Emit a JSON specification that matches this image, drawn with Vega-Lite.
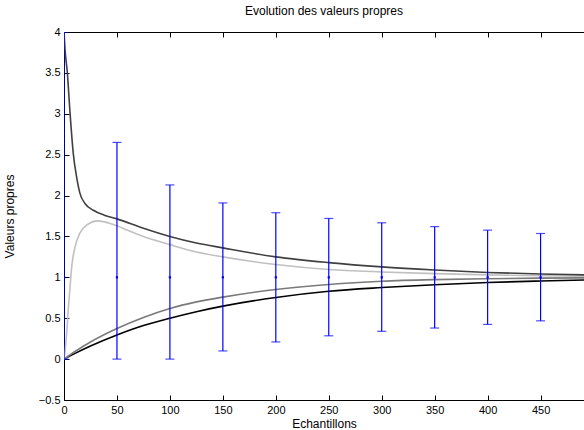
{
  "$schema": "https://vega.github.io/schema/vega-lite/v6.json",
  "width": 520,
  "height": 368,
  "autosize": {"type": "none"},
  "padding": {"left": 64, "top": 32, "right": 0, "bottom": 30},
  "background": "white",
  "config": {
    "view": {"stroke": null},
    "font": "Liberation Sans",
    "axis": {"grid": false, "domainColor": "black", "tickColor": "black", "labelColor": "black", "titleColor": "black", "labelFont": "Liberation Sans", "titleFont": "Liberation Sans", "labelFontSize": 11, "titleFontSize": 12, "titleFontWeight": "normal", "tickSize": -5, "domainWidth": 1}
  },
  "title": {"text": "Evolution des valeurs propres", "fontSize": 12, "fontWeight": "normal", "font": "Liberation Sans", "color": "black", "offset": 8},
  "resolve": {"axis": {"x": "independent", "y": "independent"}},
  "datasets": {
    "curves": [
      {"n": 0, "v": 0, "s": "a"}, {"n": 10, "v": 0.067, "s": "a"}, {"n": 25, "v": 0.16, "s": "a"}, {"n": 50, "v": 0.295, "s": "a"}, {"n": 75, "v": 0.41, "s": "a"}, {"n": 100, "v": 0.5, "s": "a"}, {"n": 125, "v": 0.58, "s": "a"}, {"n": 150, "v": 0.648, "s": "a"}, {"n": 200, "v": 0.754, "s": "a"}, {"n": 250, "v": 0.83, "s": "a"}, {"n": 300, "v": 0.875, "s": "a"}, {"n": 350, "v": 0.91, "s": "a"}, {"n": 400, "v": 0.937, "s": "a"}, {"n": 450, "v": 0.955, "s": "a"}, {"n": 491, "v": 0.967, "s": "a"},
      {"n": 0, "v": 0, "s": "b"}, {"n": 10, "v": 0.09, "s": "b"}, {"n": 25, "v": 0.21, "s": "b"}, {"n": 50, "v": 0.375, "s": "b"}, {"n": 75, "v": 0.51, "s": "b"}, {"n": 100, "v": 0.62, "s": "b"}, {"n": 125, "v": 0.7, "s": "b"}, {"n": 150, "v": 0.758, "s": "b"}, {"n": 200, "v": 0.852, "s": "b"}, {"n": 250, "v": 0.913, "s": "b"}, {"n": 300, "v": 0.952, "s": "b"}, {"n": 350, "v": 0.972, "s": "b"}, {"n": 400, "v": 0.983, "s": "b"}, {"n": 450, "v": 0.99, "s": "b"}, {"n": 491, "v": 0.993, "s": "b"},
      {"n": 0, "v": 0, "s": "c"}, {"n": 1, "v": 0.11, "s": "c"}, {"n": 2.5, "v": 0.31, "s": "c"}, {"n": 4, "v": 0.6, "s": "c"}, {"n": 5.7, "v": 0.88, "s": "c"}, {"n": 7.3, "v": 1.13, "s": "c"}, {"n": 10.4, "v": 1.37, "s": "c"}, {"n": 15, "v": 1.54, "s": "c"}, {"n": 21.5, "v": 1.64, "s": "c"}, {"n": 32, "v": 1.69, "s": "c"}, {"n": 42, "v": 1.665, "s": "c"}, {"n": 52, "v": 1.62, "s": "c"}, {"n": 60, "v": 1.575, "s": "c"}, {"n": 75, "v": 1.5, "s": "c"}, {"n": 100, "v": 1.4, "s": "c"}, {"n": 125, "v": 1.31, "s": "c"}, {"n": 150, "v": 1.25, "s": "c"}, {"n": 200, "v": 1.157, "s": "c"}, {"n": 250, "v": 1.096, "s": "c"}, {"n": 300, "v": 1.066, "s": "c"}, {"n": 350, "v": 1.045, "s": "c"}, {"n": 400, "v": 1.03, "s": "c"}, {"n": 450, "v": 1.02, "s": "c"}, {"n": 491, "v": 1.014, "s": "c"},
      {"n": 0, "v": 4, "s": "d"}, {"n": 1, "v": 3.78, "s": "d"}, {"n": 3.1, "v": 3.51, "s": "d"}, {"n": 5.7, "v": 3.01, "s": "d"}, {"n": 8.8, "v": 2.51, "s": "d"}, {"n": 12, "v": 2.22, "s": "d"}, {"n": 15, "v": 2.03, "s": "d"}, {"n": 20, "v": 1.9, "s": "d"}, {"n": 27.7, "v": 1.82, "s": "d"}, {"n": 38, "v": 1.76, "s": "d"}, {"n": 50, "v": 1.715, "s": "d"}, {"n": 75, "v": 1.6, "s": "d"}, {"n": 100, "v": 1.5, "s": "d"}, {"n": 125, "v": 1.42, "s": "d"}, {"n": 150, "v": 1.36, "s": "d"}, {"n": 200, "v": 1.25, "s": "d"}, {"n": 250, "v": 1.18, "s": "d"}, {"n": 300, "v": 1.128, "s": "d"}, {"n": 350, "v": 1.09, "s": "d"}, {"n": 400, "v": 1.06, "s": "d"}, {"n": 450, "v": 1.04, "s": "d"}, {"n": 491, "v": 1.03, "s": "d"}
    ],
    "bars": [
      {"n": 0, "m": 1, "lo": 0, "hi": 4},
      {"n": 50, "m": 1, "lo": 0, "hi": 2.65},
      {"n": 100, "m": 1, "lo": 0, "hi": 2.13},
      {"n": 150, "m": 1, "lo": 0.1, "hi": 1.91},
      {"n": 200, "m": 1, "lo": 0.21, "hi": 1.79},
      {"n": 250, "m": 1, "lo": 0.285, "hi": 1.72},
      {"n": 300, "m": 1, "lo": 0.34, "hi": 1.667},
      {"n": 350, "m": 1, "lo": 0.38, "hi": 1.62},
      {"n": 400, "m": 1, "lo": 0.424, "hi": 1.577},
      {"n": 450, "m": 1, "lo": 0.468, "hi": 1.536}
    ]
  },
  "layer": [
    {
      "data": {"name": "curves"},
      "mark": {"type": "line", "strokeWidth": 1.6, "clip": true, "interpolate": "monotone"},
      "encoding": {
        "x": {"field": "n", "type": "quantitative", "scale": {"domain": [0, 491], "nice": false, "zero": false}, "axis": {"orient": "bottom", "title": "Echantillons", "values": [0, 50, 100, 150, 200, 250, 300, 350, 400, 450], "labelPadding": 9, "titlePadding": 3, "labelFlush": false}},
        "y": {"field": "v", "type": "quantitative", "scale": {"domain": [-0.5, 4], "nice": false}, "axis": {"title": "Valeurs propres", "values": [-0.5, 0, 0.5, 1, 1.5, 2, 2.5, 3, 3.5, 4], "format": "~g", "labelPadding": 9, "titlePadding": 22}},
        "color": {"field": "s", "type": "nominal", "scale": {"domain": ["a", "b", "c", "d"], "range": ["#000000", "#7a7a7a", "#c0c0c0", "#404040"]}, "legend": null},
        "order": {"field": "n", "type": "quantitative"}
      }
    },
    {
      "data": {"name": "bars"},
      "mark": {"type": "rule", "color": "#0000ff", "strokeWidth": 1.2, "clip": true},
      "encoding": {
        "x": {"field": "n", "type": "quantitative", "axis": {"orient": "top", "title": null, "labels": false, "values": [0, 50, 100, 150, 200, 250, 300, 350, 400, 450]}},
        "y": {"field": "lo", "type": "quantitative", "axis": null},
        "y2": {"field": "hi"}
      }
    },
    {
      "data": {"name": "bars"},
      "mark": {"type": "tick", "orient": "horizontal", "color": "#0000ff", "size": 9, "thickness": 1.2, "clip": true},
      "encoding": {
        "x": {"field": "n", "type": "quantitative", "axis": null},
        "y": {"field": "lo", "type": "quantitative", "axis": null}
      }
    },
    {
      "data": {"name": "bars"},
      "mark": {"type": "tick", "orient": "horizontal", "color": "#0000ff", "size": 9, "thickness": 1.2, "clip": true},
      "encoding": {
        "x": {"field": "n", "type": "quantitative", "axis": null},
        "y": {"field": "hi", "type": "quantitative", "axis": null}
      }
    },
    {
      "data": {"name": "bars"},
      "mark": {"type": "square", "color": "#0000ff", "size": 5, "opacity": 1, "clip": true},
      "encoding": {
        "x": {"field": "n", "type": "quantitative", "axis": null},
        "y": {"field": "m", "type": "quantitative", "axis": null}
      }
    }
  ]
}
